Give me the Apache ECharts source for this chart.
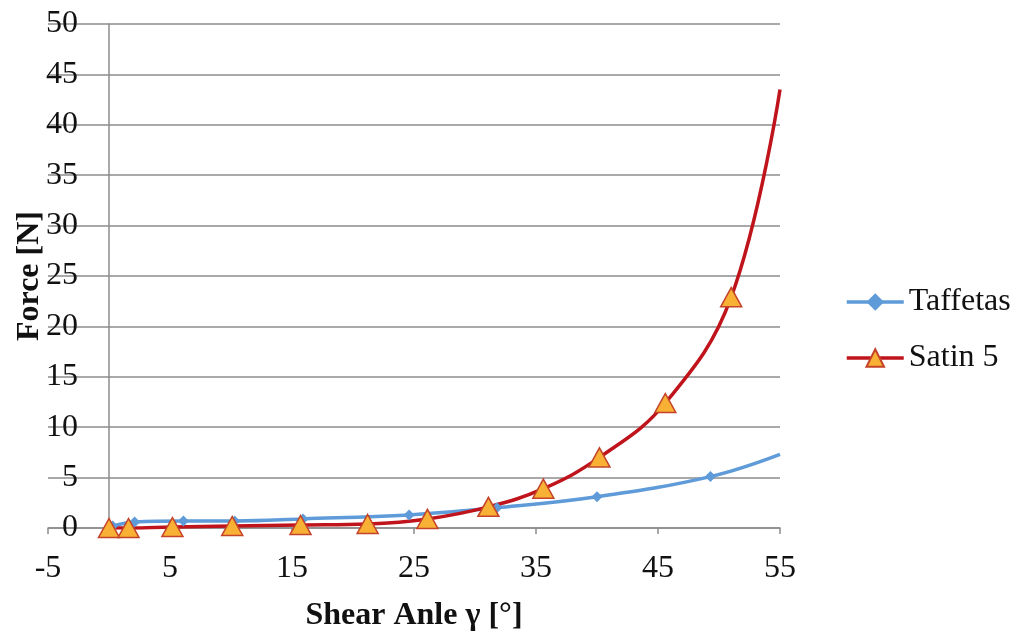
<!DOCTYPE html>
<html>
<head>
<meta charset="utf-8">
<script src="https://cdn.jsdelivr.net/npm/echarts@6/dist/echarts.min.js"></script>
<style>
  html, body { margin: 0; padding: 0; background: #fff; }
  #main { width: 1018px; height: 635px; }
</style>
</head>
<body>
<div id="main"></div>
<script>
// shear angle (deg) / force (N)
const taffetasX = [0.3, 2.1, 6.1, 10.3, 15.9, 24.6, 31.8, 40.0, 49.3, 55];
const taffetasY = [0.2, 0.6, 0.7, 0.7, 0.9, 1.3, 2.0, 3.1, 5.1, 7.3];
const satinX = [0, 1.6, 5.2, 10.1, 15.7, 21.2, 26.1, 31.1, 35.6, 40.2, 45.6, 51.0, 55];
const satinY = [0, 0.0, 0.1, 0.2, 0.3, 0.4, 0.9, 2.1, 3.9, 7.0, 12.4, 22.9, 43.5];
const seriesNames = ['Taffetas', 'Satin 5'];

const font = '"Liberation Serif", "Times New Roman", serif';
const gridColor = '#8c8c8c';

// last point of each curve only continues the line to the plot edge
function toPoints(xs, ys) {
  return xs.map((x, i) => {
    const item = { value: [x, ys[i]] };
    if (i === xs.length - 1) item.symbol = 'none';
    return item;
  });
}

const chart = echarts.init(document.getElementById('main'));
chart.setOption({
  backgroundColor: '#fff',
  animation: false,
  grid: { left: 48, right: 238, top: 24, bottom: 107, containLabel: false, outerBoundsMode: 'none' },
  legend: {
    orient: 'vertical',
    left: 840,
    top: 281,
    itemWidth: 57,
    itemHeight: 22,
    itemGap: 24,
    lineStyle: { width: 3.5 },
    textStyle: { fontFamily: font, fontSize: 32, color: '#111' },
    data: seriesNames
  },
  xAxis: {
    type: 'value',
    min: -5,
    max: 55,
    interval: 10,
    name: 'Shear Anle γ [°]',
    nameLocation: 'middle',
    nameGap: 72,
    nameTextStyle: { fontFamily: font, fontSize: 32, fontWeight: 'bold', color: '#111' },
    axisLine: { onZero: true, lineStyle: { color: gridColor, width: 1.5 } },
    axisTick: { show: true, length: 6, lineStyle: { color: gridColor, width: 1.5 } },
    axisLabel: { fontFamily: font, fontSize: 32, color: '#111', margin: 25 },
    splitLine: { show: false }
  },
  yAxis: {
    type: 'value',
    min: 0,
    max: 50,
    interval: 5,
    name: 'Force [N]',
    nameLocation: 'middle',
    nameGap: 2,
    nameMoveOverlap: false,
    nameTextStyle: { fontFamily: font, fontSize: 32, fontWeight: 'bold', color: '#111' },
    // the axis line sits on x = 0, labels stay just left of it
    axisLine: { show: true, onZero: true, lineStyle: { color: gridColor, width: 1.5 } },
    axisTick: { show: false },
    axisLabel: { fontFamily: font, fontSize: 32, color: '#111', margin: -30 },
    splitLine: { show: true, lineStyle: { color: gridColor, width: 1.5 } }
  },
  series: [
    {
      name: seriesNames[0],
      type: 'line',
      smooth: 0.4,
      symbol: 'diamond',
      symbolSize: 11,
      lineStyle: { color: '#5e9bd8', width: 3.5 },
      itemStyle: { color: '#5e9bd8' },
      data: toPoints(taffetasX, taffetasY)
    },
    {
      name: seriesNames[1],
      type: 'line',
      smooth: 0.4,
      symbol: 'triangle',
      symbolSize: [21, 19],
      lineStyle: { color: '#c0141c', width: 3.5 },
      itemStyle: { color: '#f8b134', borderColor: '#c4432a', borderWidth: 1.5 },
      data: toPoints(satinX, satinY)
    }
  ]
});
</script>
</body>
</html>
